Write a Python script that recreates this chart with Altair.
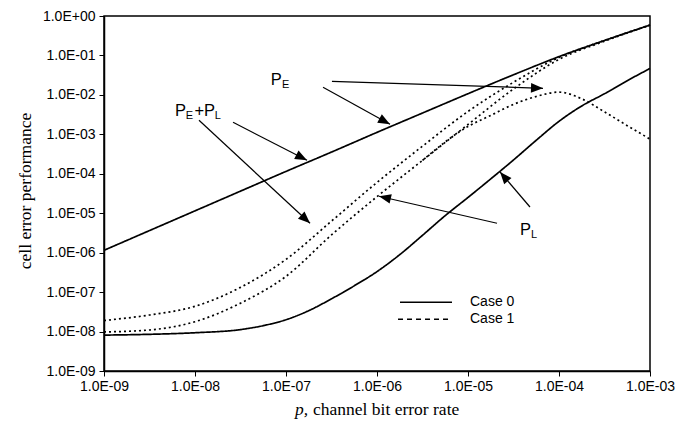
import math
import altair as alt
import pandas as pd

# Plot area size (pixels)
W, H = 546, 355

# ---- data (log10 values) ----
log_p = [-9, -8.5, -8, -7.5, -7, -6.5, -6, -5.5, -5, -4.5, -4, -3.5, -3]
case0_PE = [-5.94, -5.44, -4.94, -4.44, -3.94, -3.45, -2.95, -2.46, -1.97, -1.49, -1.03, -0.62, -0.23]
case1_PEPL = [-7.72, -7.58, -7.36, -6.88, -6.17, -5.20, -4.22, -3.30, -2.42, -1.68, -1.05, -0.62, -0.23]
case1_PL = [-8.01, -7.96, -7.75, -7.28, -6.60, -5.55, -4.58, -3.66, -2.75, -1.85, -1.10, -0.64, -0.23]

log_p_fine = [-9, -8.5, -8, -7.5, -7.25, -7, -6.75, -6.5, -6.25, -6, -5.75, -5.5, -5.25, -5,
              -4.75, -4.5, -4.25, -4, -3.75, -3.5, -3.25, -3]
case0_PL = [-8.09, -8.07, -8.03, -7.95, -7.85, -7.70, -7.47, -7.17, -6.84, -6.48, -6.05, -5.56,
            -5.06, -4.60, -4.13, -3.65, -3.15, -2.67, -2.28, -1.97, -1.64, -1.33]

log_p_peak = [-5.5, -5.0, -4.75, -4.5, -4.25, -4.0, -3.75, -3.5, -3.25, -3.0]
case1_PE = [-3.66, -2.80, -2.52, -2.24, -2.04, -1.93, -2.10, -2.43, -2.78, -3.12]

x_ticks = [1e-9, 1e-8, 1e-7, 1e-6, 1e-5, 1e-4, 1e-3]
x_tick_labels = ["1.0E-09", "1.0E-08", "1.0E-07", "1.0E-06", "1.0E-05", "1.0E-04", "1.0E-03"]
y_ticks = [1e-9, 1e-8, 1e-7, 1e-6, 1e-5, 1e-4, 1e-3, 1e-2, 1e-1, 1]
y_tick_labels = ["1.0E-09", "1.0E-08", "1.0E-07", "1.0E-06", "1.0E-05", "1.0E-04",
                 "1.0E-03", "1.0E-02", "1.0E-01", "1.0E+00"]

# annotation arrows (tail -> tip) in log10 data units
arrow_tail_lp = [-6.593, -6.495, -7.582, -7.956, -4.681, -4.319]
arrow_tail_lv = [-1.807, -1.655, -2.695, -2.644, -5.255, -4.842]
arrow_tip_lp = [-5.857, -4.176, -6.769, -6.736, -5.978, -4.648]
arrow_tip_lv = [-2.745, -1.833, -3.658, -5.255, -4.570, -3.954]

# annotation text pieces: main letters and subscripts (left x, baseline y in log10 units)
big_text = ["P", "P", "+", "P", "P"]
big_lp = [-7.168, -8.220, -8.005, -7.901, -4.429]
big_lv = [-1.757, -2.542, -2.542, -2.542, -5.559]
sub_text = ["E", "E", "L", "L"]
sub_lp = [-7.044, -8.102, -7.784, -4.308]
sub_lv = [-1.833, -2.619, -2.619, -5.622]

legend_labels = ["Case 0", "Case 1"]
legend_line_lp0 = [-5.747, -5.769]
legend_line_lp1 = [-5.176, -5.176]
legend_lv = [-7.257, -7.688]
legend_text_lp = -4.978

xtitle_parts = ["p,", "channel bit error rate"]
xtitle_lp = [-6.901, -6.703]
xtitle_lv = -10.12

# ---- build tables ----
rows = []
def add(series, case, lps, lvs):
    for a, b in zip(lps, lvs):
        rows.append({"series": series, "case": case, "p": 10 ** a, "v": 10 ** b})

add("PE0", "Case 0", log_p, case0_PE)
add("PL0", "Case 0", log_p_fine, case0_PL)
add("PEPL1", "Case 1", log_p, case1_PEPL)
add("PL1", "Case 1", log_p, case1_PL)
add("PE1", "Case 1", log_p_peak, case1_PE)
curves = pd.DataFrame(rows)

ppd_x, ppd_y = W / 6, H / 9
arrows = []
for a, b, c, d in zip(arrow_tail_lp, arrow_tail_lv, arrow_tip_lp, arrow_tip_lv):
    dx = (c - a) * ppd_x
    dy = -(d - b) * ppd_y
    ang = math.degrees(math.atan2(dx, -dy)) % 360
    arrows.append({"x": 10 ** a, "y": 10 ** b, "x2": 10 ** c, "y2": 10 ** d, "ang": ang})
arrows = pd.DataFrame(arrows)

big = pd.DataFrame({"t": big_text, "x": [10 ** v for v in big_lp], "y": [10 ** v for v in big_lv]})
sub = pd.DataFrame({"t": sub_text, "x": [10 ** v for v in sub_lp], "y": [10 ** v for v in sub_lv]})
leg = pd.DataFrame({
    "label": legend_labels,
    "x": [10 ** v for v in legend_line_lp0],
    "x2": [10 ** v for v in legend_line_lp1],
    "y": [10 ** v for v in legend_lv],
    "tx": [10 ** legend_text_lp] * 2,
})
xt = pd.DataFrame({"t": xtitle_parts, "x": [10 ** v for v in xtitle_lp], "y": [10 ** xtitle_lv] * 2})

xs = alt.Scale(type="log", domain=[1e-9, 1e-3], nice=False)
ys = alt.Scale(type="log", domain=[1e-9, 1], nice=False)

x_expr = "[" + ",".join("'%s'" % s for s in x_tick_labels) + "][round(log(datum.value)/LN10)+9]"
y_expr = "[" + ",".join("'%s'" % s for s in y_tick_labels) + "][round(log(datum.value)/LN10)+9]"

x_axis = alt.Axis(values=x_ticks, labelExpr=x_expr, title=None, grid=False,
                  labelFont="Liberation Sans", labelFontSize=14,
                  labelColor="black", tickColor="black", domainColor="black",
                  domainWidth=1.5, tickSize=5, labelPadding=3, labelFlush=False)
y_axis = alt.Axis(values=y_ticks, labelExpr=y_expr, grid=False,
                  title="cell error performance",
                  titleFont="Liberation Serif", titleFontSize=17.5,
                  titleFontWeight="normal", titleColor="black",
                  titleAngle=270, titleX=-74, titleY=174.5,
                  titleAlign="center", titleBaseline="alphabetic",
                  labelFont="Liberation Sans", labelFontSize=14,
                  labelColor="black", tickColor="black", domainColor="black",
                  domainWidth=1.5, tickSize=5, labelPadding=4, labelFlush=False)


def X(f):
    return alt.X(f, scale=xs, axis=x_axis)


def Y(f):
    return alt.Y(f, scale=ys, axis=y_axis)


lines = alt.Chart(curves).mark_line(color="black", strokeWidth=1.7, interpolate="monotone", clip=False).encode(
    x=X("p:Q"), y=Y("v:Q"),
    detail="series:N",
    strokeDash=alt.StrokeDash("case:N", scale=alt.Scale(domain=["Case 0", "Case 1"], range=[[1, 0], [2, 3]]),
                              legend=None),
)

rules = alt.Chart(arrows).mark_rule(color="black", strokeWidth=1.2).encode(
    x=X("x:Q"), y=Y("y:Q"), x2="x2:Q", y2="y2:Q")

heads = alt.Chart(arrows).mark_point(shape="M0,0L-0.4,1L0.4,1Z", filled=True, size=576,
                                     color="black", opacity=1, strokeWidth=0).encode(
    x=X("x2:Q"), y=Y("y2:Q"), angle=alt.Angle("ang:Q", scale=None))

big_t = alt.Chart(big).mark_text(align="left", baseline="alphabetic", font="Liberation Sans",
                                  fontSize=16.5, color="black").encode(
    x=X("x:Q"), y=Y("y:Q"), text="t:N")
sub_t = alt.Chart(sub).mark_text(align="left", baseline="alphabetic", font="Liberation Sans",
                                  fontSize=11, color="black").encode(
    x=X("x:Q"), y=Y("y:Q"), text="t:N")

leg_lines = alt.Chart(leg).mark_rule(color="black", strokeWidth=1.7).encode(
    x=X("x:Q"), x2="x2:Q", y=Y("y:Q"),
    strokeDash=alt.StrokeDash("label:N", scale=alt.Scale(domain=legend_labels, range=[[1, 0], [5, 4]]),
                              legend=None))
leg_text = alt.Chart(leg).mark_text(align="left", baseline="middle", font="Liberation Sans",
                                    fontSize=14, color="black").encode(
    x=X("tx:Q"), y=Y("y:Q"), text="label:N")

xt_p = alt.Chart(xt.iloc[[0]]).mark_text(align="left", baseline="alphabetic",
                                        font="Liberation Serif", fontSize=17.5,
                                        fontStyle="italic", color="black").encode(
    x=X("x:Q"), y=Y("y:Q"), text="t:N")
xt_r = alt.Chart(xt.iloc[[1]]).mark_text(align="left", baseline="alphabetic",
                                        font="Liberation Serif", fontSize=17.5,
                                        color="black").encode(
    x=X("x:Q"), y=Y("y:Q"), text="t:N")

chart = alt.layer(lines, rules, heads, big_t, sub_t, leg_lines, leg_text, xt_p, xt_r).resolve_scale(
    strokeDash="independent"
).properties(
    width=W, height=H,
    padding={"left": 104, "top": 16, "right": 39, "bottom": 59},
    autosize=alt.AutoSizeParams(type="none"),
    background="white",
).configure_view(stroke="black", strokeWidth=1.5)

chart.save("out.html", embed_options={"renderer": "svg", "actions": False})
